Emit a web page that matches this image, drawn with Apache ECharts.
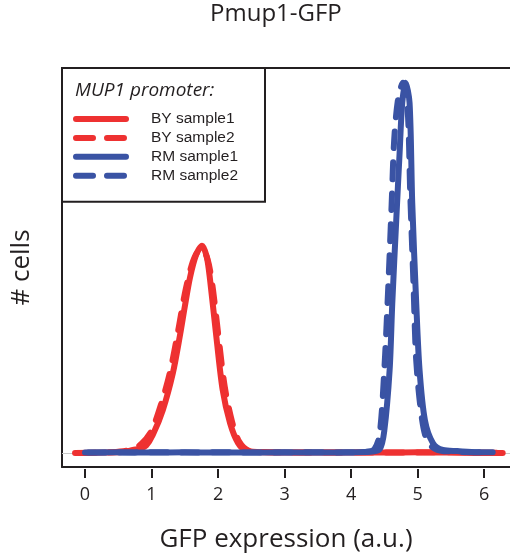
<!DOCTYPE html>
<html>
<head>
<meta charset="utf-8">
<script src="https://cdn.jsdelivr.net/npm/echarts@6/dist/echarts.min.js"></script>
<style>html,body{margin:0;padding:0;background:#fff}#c{width:510px;height:558px}</style>
</head>
<body>
<div id="c"></div>
<script>
// ---- data ----
const seriesNames = ['BY sample1', 'BY sample2', 'RM sample1', 'RM sample2'];
const xTicks = [0, 1, 2, 3, 4, 5, 6];

const by1X = [-0.15, 0.3, 0.6, 0.72, 0.83, 0.92, 1.02, 1.17, 1.32, 1.43, 1.50, 1.58, 1.67, 1.76, 1.83, 1.88, 1.98, 2.07, 2.18, 2.30, 2.43, 2.7, 3.5, 4.5, 5.0, 5.5, 6.0, 6.28];
const by1Y = [0, 0.001, 0.003, 0.008, 0.012, 0.02, 0.049, 0.116, 0.215, 0.32, 0.395, 0.475, 0.535, 0.56, 0.53, 0.468, 0.305, 0.17, 0.081, 0.027, 0.006, 0.002, 0.001, 0.001, 0.002, 0.001, 0.0, 0.0];

const by2X = [-0.1, 0.4, 0.70, 0.85, 1.00, 1.15, 1.28, 1.40, 1.50, 1.60, 1.68, 1.76, 1.84, 1.91, 2.01, 2.10, 2.21, 2.32, 2.47, 2.8, 3.5, 4.5, 5.5, 6.25];
const by2Y = [0, 0.002, 0.009, 0.025, 0.06, 0.135, 0.22, 0.33, 0.43, 0.505, 0.54, 0.55, 0.525, 0.46, 0.31, 0.18, 0.085, 0.03, 0.006, 0.002, 0.001, 0.001, 0.002, 0];

const rm1X = [0, 0.5, 1.0, 1.5, 2.0, 2.5, 3.0, 3.5, 4.0, 4.28, 4.43, 4.50, 4.58, 4.62, 4.68, 4.73, 4.77, 4.82, 4.88, 4.92, 4.98, 5.03, 5.11, 5.23, 5.38, 5.6, 5.9, 6.13];
const rm1Y = [0.001, 0.002, 0.001, 0.002, 0.001, 0.001, 0.002, 0.001, 0.002, 0.003, 0.01, 0.06, 0.224, 0.405, 0.63, 0.81, 0.946, 1.0, 0.946, 0.676, 0.405, 0.224, 0.089, 0.027, 0.008, 0.005, 0.002, 0.002];

const rm2X = [0.05, 0.5, 1.0, 1.5, 2.0, 2.5, 3.0, 3.5, 4.0, 4.23, 4.35, 4.43, 4.50, 4.56, 4.61, 4.65, 4.71, 4.78, 4.85, 4.89, 4.94, 4.98, 5.06, 5.15, 5.30, 5.5, 5.8, 6.1];
const rm2Y = [0.001, 0.001, 0.002, 0.001, 0.002, 0.001, 0.001, 0.002, 0.001, 0.003, 0.01, 0.05, 0.224, 0.45, 0.67, 0.85, 0.96, 1.0, 0.93, 0.7, 0.45, 0.25, 0.1, 0.03, 0.008, 0.004, 0.002, 0.001];

// ---- chart ----
const RED = '#ee3131';
const BLUE = '#3a53a4';
const INK = '#231f20';
const FONT = 'Open Sans';
const X_MIN = -0.346, X_MAX = 6.39;
const Y_MIN = -0.038, Y_MAX = 1.04;
const zip = (xs, ys) => xs.map((x, i) => [x, ys[i]]);

function mkSeries(name, xs, ys, color, dashed, extra) {
  return Object.assign({
    name: name,
    type: 'line',
    data: zip(xs, ys),
    showSymbol: false,
    symbol: 'none',
    smooth: 0.3,
    lineStyle: { color: color, width: 6, type: dashed ? [17, 14] : 'solid', cap: 'round', join: 'round' },
    itemStyle: { color: color },
    emphasis: { disabled: true },
    animation: false
  }, extra || {});
}

const hiddenParts = { axisTick: { show: false }, axisLabel: { show: false }, splitLine: { show: false } };
const frameLine = { show: true, onZero: false, lineStyle: { color: INK, width: 2 } };

const chart = echarts.init(document.getElementById('c'), null, { renderer: 'canvas' });
chart.setOption({
  animation: false,
  backgroundColor: '#fff',
  title: [
    { text: 'Pmup1-GFP', left: 210, top: 2, padding: 0,
      textStyle: { fontFamily: FONT, fontSize: 24, fontWeight: 'normal', color: INK } },
    { text: 'MUP1 promoter:', left: 75, top: 81, padding: 0,
      textStyle: { fontFamily: FONT, fontSize: 19, fontStyle: 'italic', fontWeight: 'normal', color: INK } }
  ],
  legend: {
    data: seriesNames,
    orient: 'vertical',
    left: 62, top: 68,
    padding: [43, 27, 18, 11],
    itemWidth: 50, itemHeight: 14, itemGap: 2.9,
    borderColor: INK, borderWidth: 2, backgroundColor: '#fff',
    itemStyle: { opacity: 0 },
    lineStyle: { width: 6, cap: 'round' },
    textStyle: { fontFamily: 'Liberation Sans', fontSize: 15.5, color: INK, padding: [0, 0, 0, 20] },
    selectedMode: false
  },
  grid: { left: 62, top: 68, right: 0, bottom: 91, show: false },
  xAxis: [
    Object.assign({ type: 'value', min: X_MIN, max: X_MAX, position: 'bottom', axisLine: frameLine }, hiddenParts),
    {
      type: 'value', min: X_MIN, max: X_MAX, position: 'bottom', offset: 2,
      axisLine: { show: false, onZero: false },
      splitLine: { show: false },
      axisTick: { show: true, length: 9, customValues: xTicks, lineStyle: { color: INK, width: 2 } },
      axisLabel: { customValues: xTicks, margin: 17, fontFamily: FONT, fontSize: 18, color: INK },
      name: 'GFP expression (a.u.)', nameLocation: 'middle', nameGap: 58,
      nameTextStyle: { fontFamily: FONT, fontSize: 26, color: INK }
    },
    Object.assign({ type: 'value', min: X_MIN, max: X_MAX, position: 'top', axisLine: frameLine }, hiddenParts)
  ],
  yAxis: Object.assign({
    type: 'value', min: Y_MIN, max: Y_MAX, position: 'left', axisLine: frameLine,
    name: '# cells', nameLocation: 'middle', nameGap: 27, nameRotate: 90,
    nameTextStyle: { fontFamily: FONT, fontSize: 26, color: INK }
  }, hiddenParts),
  series: [
    mkSeries(seriesNames[0], by1X, by1Y, RED, false, {
      markLine: { silent: true, z: 1, symbol: 'none', label: { show: false },
        lineStyle: { color: '#c8c8c8', width: 1, type: 'solid' }, data: [{ yAxis: 0 }] }
    }),
    mkSeries(seriesNames[1], by2X, by2Y, RED, true),
    mkSeries(seriesNames[2], rm1X, rm1Y, BLUE, false),
    mkSeries(seriesNames[3], rm2X, rm2Y, BLUE, true)
  ]
});
</script>
</body>
</html>
